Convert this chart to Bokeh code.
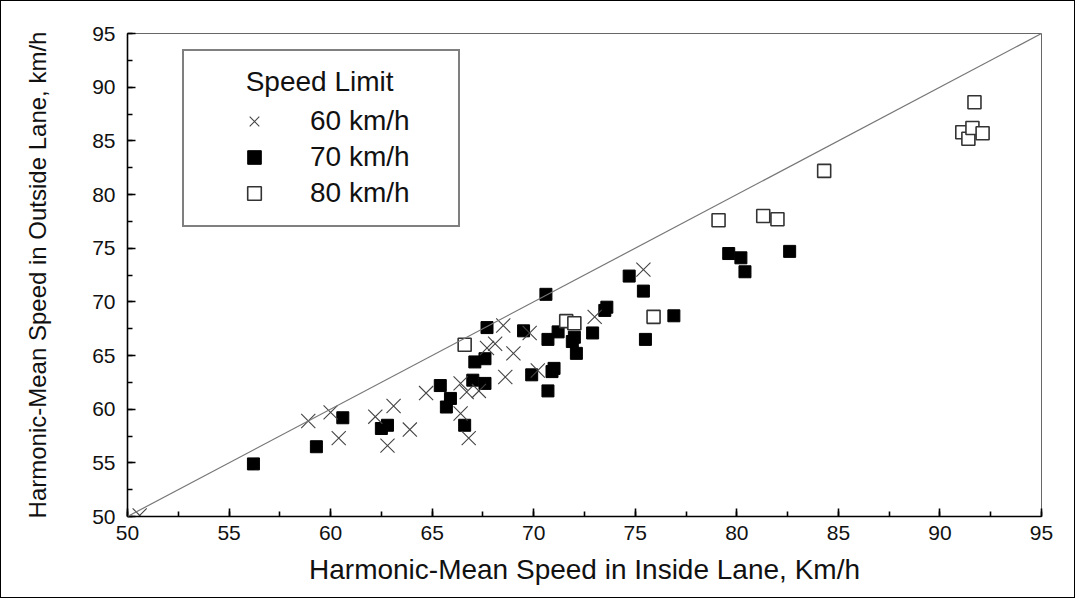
from bokeh.plotting import figure
from bokeh.models import Legend, LegendItem, SingleIntervalTicker, Slope, Range1d
from bokeh.embed import file_html
from bokeh.resources import INLINE

# ---- data ----
x60 = [50.6, 58.9, 60.0, 60.4, 62.2, 62.8, 63.1, 63.9, 64.7, 66.4, 66.7, 66.4,
       66.8, 67.3, 67.7, 68.1, 68.6, 69.0, 68.5, 69.8, 70.2, 73.0, 75.4]
y60 = [50.1, 58.9, 59.7, 57.3, 59.3, 56.6, 60.3, 58.1, 61.5, 62.4, 61.6, 59.6,
       57.3, 61.7, 65.7, 66.1, 63.0, 65.2, 67.8, 67.1, 63.6, 68.6, 73.0]

x70 = [56.2, 59.3, 60.6, 62.5, 62.8, 65.4, 65.7, 65.9, 66.6, 67.0, 67.1, 67.6,
       67.6, 67.7, 69.5, 69.9, 70.6, 70.7, 70.7, 70.9, 71.0, 71.2, 71.9, 72.0,
       72.1, 72.9, 73.5, 73.6, 74.7, 75.4, 75.5, 76.9, 79.6, 80.2, 80.4, 82.6]
y70 = [54.9, 56.5, 59.2, 58.2, 58.5, 62.2, 60.2, 61.0, 58.5, 62.7, 64.4, 64.7,
       62.4, 67.6, 67.3, 63.2, 70.7, 66.5, 61.7, 63.5, 63.8, 67.2, 66.3, 66.7,
       65.2, 67.1, 69.2, 69.5, 72.4, 71.0, 66.5, 68.7, 74.5, 74.1, 72.8, 74.7]

x80 = [66.6, 71.6, 72.0, 75.9, 79.1, 81.3, 82.0, 84.3, 91.1, 91.4, 91.6, 92.1, 91.7]
y80 = [66.0, 68.2, 68.0, 68.6, 77.6, 78.0, 77.7, 82.2, 85.8, 85.2, 86.2, 85.7, 88.6]

series_labels = ["60 km/h", "70 km/h", "80 km/h"]
legend_title = "Speed Limit"
x_label = "Harmonic-Mean Speed in Inside Lane, Km/h"
y_label = "Harmonic-Mean Speed in Outside Lane, km/h"
axis_min, axis_max, tick_step = 50, 95, 5

FONT = "Liberation Sans"

p = figure(width=1075, height=598, output_backend="svg", toolbar_location=None,
           x_range=Range1d(axis_min, axis_max), y_range=Range1d(axis_min, axis_max),
           min_border_left=126, min_border_right=35, min_border_top=32,
           min_border_bottom=83)
p.styles = {"border": "1px solid black"}
p.grid.visible = False
p.outline_line_color = "#666666"
p.outline_line_width = 1
p.background_fill_color = "white"
p.border_fill_color = "white"

for ax in (p.xaxis[0], p.yaxis[0]):
    ax.ticker = SingleIntervalTicker(interval=tick_step, num_minor_ticks=2)
    ax.major_tick_in = 8
    ax.major_tick_out = 0
    ax.minor_tick_in = 5
    ax.minor_tick_out = 0
    ax.axis_line_width = 1.6
    ax.axis_line_color = "black"
    ax.major_tick_line_width = 1.6
    ax.major_tick_line_color = "black"
    ax.minor_tick_line_width = 1.6
    ax.minor_tick_line_color = "black"
    ax.major_label_text_font = FONT
    ax.major_label_text_font_size = "21px"
    ax.major_label_text_color = "#111111"
    ax.axis_label_text_font = FONT
    ax.axis_label_text_font_style = "normal"
    ax.axis_label_text_color = "#111111"

p.xaxis.axis_label = x_label
p.yaxis.axis_label = y_label
p.xaxis.axis_label_text_font_size = "28px"
p.yaxis.axis_label_text_font_size = "24px"
p.xaxis.major_label_standoff = 9
p.yaxis.major_label_standoff = 12
p.xaxis.axis_label_standoff = 11
p.yaxis.axis_label_standoff = 38

p.add_layout(Slope(gradient=1, y_intercept=0, line_color="#777777", line_width=1.2))

r70 = p.scatter(x70, y70, marker="square", size=12, fill_color="black",
                line_color="black", line_width=1)
r80 = p.scatter(x80, y80, marker="square", size=13, fill_color="white",
                line_color="#333333", line_width=1.6)
r60 = p.scatter(x60, y60, marker="x", size=20, line_color="#444444", line_width=1.1)

legend = Legend(
    items=[LegendItem(label=series_labels[0], renderers=[r60]),
           LegendItem(label=series_labels[1], renderers=[r70]),
           LegendItem(label=series_labels[2], renderers=[r80])],
    location=(55, 289),
    title="\u00a0" * 6 + legend_title,
    title_text_font=FONT, title_text_font_size="28px", title_text_font_style="normal",
    title_text_color="#111111", title_standoff=6,
    label_text_font=FONT, label_text_font_size="28px", label_text_color="#111111",
    glyph_width=110, glyph_height=34, label_standoff=1, label_width=133,
    spacing=2, padding=15, margin=0,
    border_line_color="black", border_line_width=2,
    background_fill_color="white", background_fill_alpha=1,
)
p.add_layout(legend)

open("out.html", "w").write(file_html(p, INLINE))
